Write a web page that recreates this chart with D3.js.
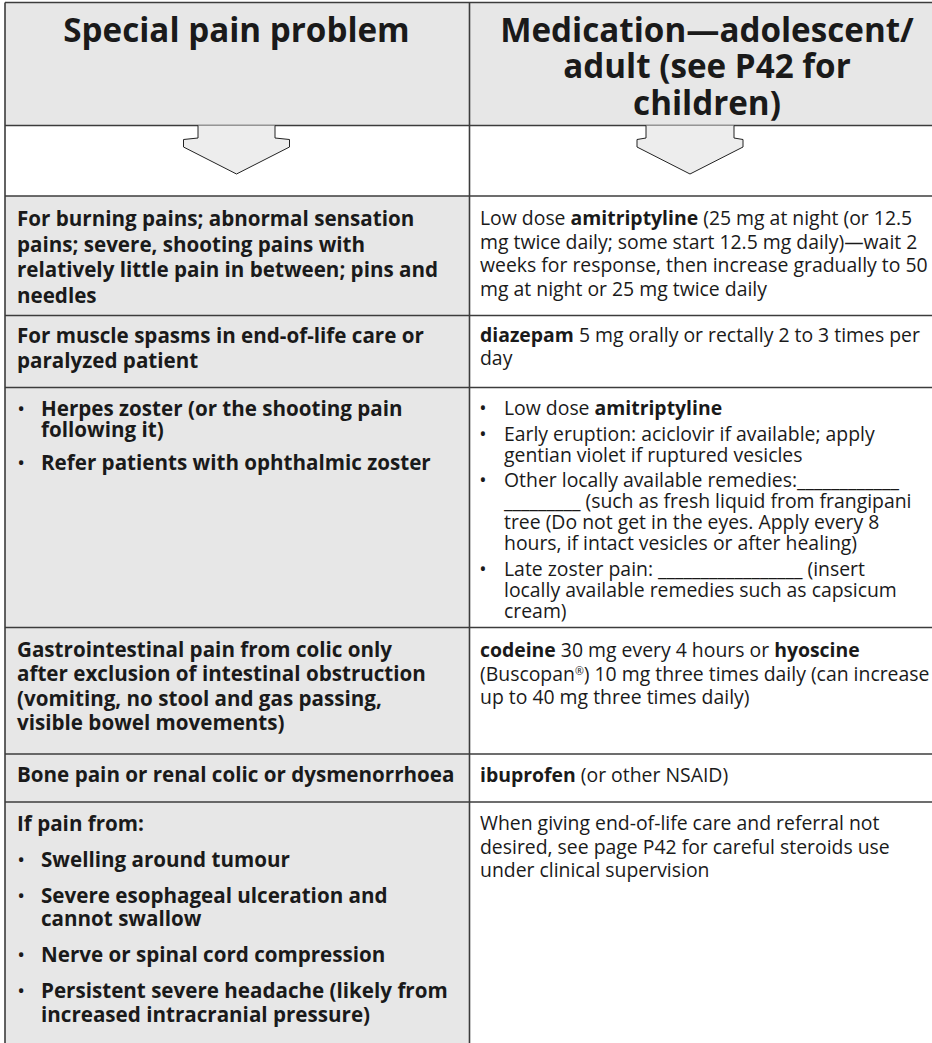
<!DOCTYPE html>
<html><head><meta charset="utf-8">
<script src="https://cdn.jsdelivr.net/npm/d3@7"></script>
<style>html,body{margin:0;padding:0;background:#fff;} svg{display:block;}</style>
</head><body><div id="chart"></div>
<script>
// ---------- DATA ----------
const headerProblem = ["Special pain problem"];
const headerMedication = ["Medication—adolescent/", "adult (see P42 for", "children)"];

const problems = [
  [{bullet:false, lines:["For burning pains; abnormal sensation","pains; severe, shooting pains with","relatively little pain in between; pins and","needles"]}],
  [{bullet:false, lines:["For muscle spasms in end-of-life care or","paralyzed patient"]}],
  [{bullet:true, lines:["Herpes zoster (or the shooting pain","following it)"]},
   {bullet:true, lines:["Refer patients with ophthalmic zoster"]}],
  [{bullet:false, lines:["Gastrointestinal pain from colic only","after exclusion of intestinal obstruction","(vomiting, no stool and gas passing,","visible bowel movements)"]}],
  [{bullet:false, lines:["Bone pain or renal colic or dysmenorrhoea"]}],
  [{bullet:false, lines:["If pain from:"]},
   {bullet:true, lines:["Swelling around tumour"]},
   {bullet:true, lines:["Severe esophageal ulceration and","cannot swallow"]},
   {bullet:true, lines:["Nerve or spinal cord compression"]},
   {bullet:true, lines:["Persistent severe headache (likely from","increased intracranial pressure)"]}]
];

const medications = [
  [{bullet:false, lines:["Low dose **amitriptyline** (25 mg at night (or 12.5","mg twice daily; some start 12.5 mg daily)—wait 2","weeks for response, then increase gradually to 50","mg at night or 25 mg twice daily"]}],
  [{bullet:false, lines:["**diazepam** 5 mg orally or rectally 2 to 3 times per","day"]}],
  [{bullet:true, lines:["Low dose **amitriptyline**"]},
   {bullet:true, lines:["Early eruption: aciclovir if available; apply","gentian violet if ruptured vesicles"]},
   {bullet:true, lines:["Other locally available remedies:____________","_________ (such as fresh liquid from frangipani","tree (Do not get in the eyes. Apply every 8","hours, if intact vesicles or after healing)"]},
   {bullet:true, lines:["Late zoster pain: _________________ (insert","locally available remedies such as capsicum","cream)"]}],
  [{bullet:false, lines:["**codeine** 30 mg every 4 hours or **hyoscine**","(Buscopan®) 10 mg three times daily (can increase","up to 40 mg three times daily)"]}],
  [{bullet:false, lines:["**ibuprofen** (or other NSAID)"]}],
  [{bullet:false, lines:["When giving end-of-life care and referral not","desired, see page P42 for careful steroids use","under clinical supervision"]}]
];

// ---------- LAYOUT ----------
const W = 932, H = 1043;
const FONT = "'Open Sans', 'Noto Sans', sans-serif";
const colX = [5, 469.5, 945];
const headerTop = 2.5, headerBottom = 125.5, arrowBottom = 196;
const rowBounds = [196, 315.5, 387.5, 627.5, 754, 802, 1070];
const cellLayout = [
  {L:{first:30, line:25.5, para:0},  R:{first:29, line:23.5, para:0}},
  {L:{first:27, line:25.5, para:0},  R:{first:26.5, line:23.3, para:0}},
  {L:{first:28.5, line:21, para:33}, R:{first:27.5, line:21, para:25.5}},
  {L:{first:29.2, line:24.4, para:0}, R:{first:29.2, line:23.8, para:0}},
  {L:{first:27.7, line:24, para:0},  R:{first:27.7, line:24, para:0}},
  {L:{first:28.7, line:23.4, para:36}, R:{first:28, line:23.5, para:0}}
];
const textPos = {
  L:{x:17, bx:21, tx:41, weight:700, size:20.6},
  R:{x:480, bx:483, tx:504, weight:400, size:19.4}
};
const headSize = 33.2;
const headFill = "#e7e7e7", leftFill = "#e7e7e7", lineColor = "#3c3c3c", textColor = "#1a1a1a";

const svg = d3.select("#chart").append("svg").attr("width", W).attr("height", H)
  .style("font-family", FONT);

// backgrounds
const x = d3.scaleLinear().domain([0,1,2]).range(colX);
svg.append("rect").attr("x", x(0)).attr("y", headerTop).attr("width", x(2)-x(0)).attr("height", headerBottom-headerTop).attr("fill", headFill);
svg.append("rect").attr("x", x(0)).attr("y", arrowBottom).attr("width", x(1)-x(0)).attr("height", H + 50 - arrowBottom).attr("fill", leftFill);

// grid lines
const hLines = [headerTop, headerBottom, arrowBottom].concat(rowBounds.slice(1, -1));
svg.selectAll("line.h").data(hLines).join("line").attr("class","h")
  .attr("x1", x(0)).attr("x2", x(2)).attr("y1", d=>d).attr("y2", d=>d)
  .attr("stroke", lineColor).attr("stroke-width", 1.6);
svg.selectAll("line.v").data([0,1]).join("line").attr("class","v")
  .attr("x1", d=>x(d)).attr("x2", d=>x(d)).attr("y1", headerTop).attr("y2", H + 50)
  .attr("stroke", lineColor).attr("stroke-width", 1.6);

// headers
const headerSpecs = [
  {lines: headerProblem, cx: 236.5, first: 41.5},
  {lines: headerMedication, cx: 707, first: 41.5}
];
const headLineGap = 36.5;
headerSpecs.forEach(h => {
  svg.append("g").selectAll("text").data(h.lines).join("text")
    .attr("x", h.cx).attr("y", (d,i)=> h.first + i*headLineGap)
    .attr("text-anchor","middle").attr("font-size", headSize).attr("font-weight", 700)
    .attr("fill", textColor).text(d=>d);
});

// arrows
const arrowSpecs = [
  {cx: 236.5, stem: 38.5, head: 53},
  {cx: 690, stem: 44, head: 53}
];
const arrowY = {top: headerBottom, shoulder: 138, side: 147, tip: 174};
const lineGen = d3.line();
svg.selectAll("path.arrow").data(arrowSpecs).join("path").attr("class","arrow")
  .attr("d", a => lineGen([
    [a.cx - a.stem, arrowY.top], [a.cx - a.stem, arrowY.shoulder],
    [a.cx - a.head, arrowY.shoulder + 1.5], [a.cx - a.head, arrowY.side],
    [a.cx, arrowY.tip],
    [a.cx + a.head, arrowY.side], [a.cx + a.head, arrowY.shoulder + 1.5],
    [a.cx + a.stem, arrowY.shoulder], [a.cx + a.stem, arrowY.top]
  ]))
  .attr("fill", "#ededed").attr("stroke", "#222").attr("stroke-width", 1);

// body text
function layoutCell(paras, rowIdx, side) {
  const cfg = cellLayout[rowIdx][side], pos = textPos[side];
  const out = [];
  let y = rowBounds[rowIdx] + cfg.first;
  paras.forEach((p, pi) => {
    if (pi > 0) y += cfg.para;
    p.lines.forEach((ln, li) => {
      if (li > 0) y += cfg.line;
      out.push({text: ln, y, x: p.bullet ? pos.tx : pos.x, bullet: p.bullet && li === 0,
                bx: pos.bx, weight: pos.weight, size: pos.size});
    });
  });
  return out;
}
function segments(str) {
  const segs = [];
  str.split("**").forEach((part, i) => {
    const bold = i % 2 === 1;
    part.split(/(®)/).forEach(s => { if (s) segs.push({t: s, bold, sup: s === "®"}); });
  });
  return segs;
}
const allLines = [];
problems.forEach((paras, r) => allLines.push(...layoutCell(paras, r, "L")));
medications.forEach((paras, r) => allLines.push(...layoutCell(paras, r, "R")));

const body = svg.append("g").attr("fill", textColor);
const t = body.selectAll("text.line").data(allLines).join("text").attr("class","line")
  .attr("x", d=>d.x).attr("y", d=>d.y).attr("font-weight", d=>d.weight).attr("font-size", d=>d.size);
t.selectAll("tspan").data(d => segments(d.text).map(s => ({...s, base: d.weight, size: d.size})))
  .join("tspan")
  .attr("font-weight", s => s.bold ? 700 : s.base)
  .attr("font-size", s => s.sup ? s.size*0.55 : null)
  .attr("baseline-shift", s => s.sup ? "55%" : null)
  .text(s => s.t);
body.selectAll("text.bullet").data(allLines.filter(d=>d.bullet)).join("text").attr("class","bullet")
  .attr("x", d=>d.bx).attr("y", d=>d.y).attr("font-size", d=>d.size)
  .attr("text-anchor","middle").attr("font-weight", 400).text("•");
</script>
</body></html>
